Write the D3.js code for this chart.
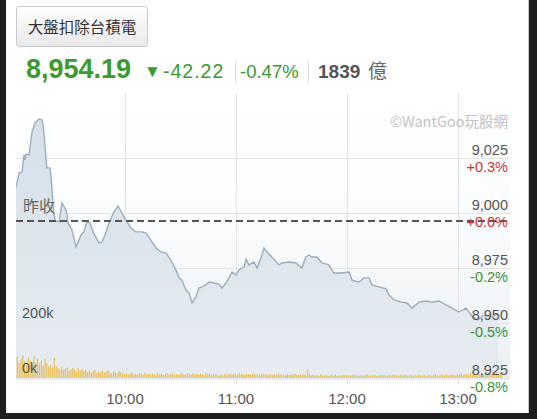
<!DOCTYPE html>
<html>
<head>
<meta charset="utf-8">
<script src="https://cdn.jsdelivr.net/npm/d3@7"></script>
<style>
body { margin: 0; background: #1e1e1e; }
svg { display: block; font-family: "Liberation Sans", Arial, "Noto Sans CJK TC", sans-serif; }
.cjk { font-family: "Noto Sans CJK TC", sans-serif; }
</style>
</head>
<body>
<svg id="chart" width="537" height="419"></svg>
<script>
var title = '大盤扣除台積電';
var watermark = '©WantGoo玩股網';
var prevClose = 8996.41;
var lastPrice = 8954.19;
var change = -42.22;
var changePct = -0.0047;
var turnover = 1839;

// minutes after 09:00 and index value
var priceMinutes = [0, 1, 3, 4.6, 5.7, 6.2, 6.8, 8.4, 10, 11.6,
    13.8, 15.4, 16, 17, 18, 19.7, 20.3, 21.4, 22.4, 24.6,
    26.2, 28.4, 29.5, 31.6, 33.8, 36.5, 38, 39.7, 41.4, 43,
    46.2, 47.8, 49.5, 51.6, 54.3, 56.5, 58.6, 60.8, 63.5, 66.2,
    69.5, 71.6, 74.3, 77, 79.7, 82.4, 85.1, 87.8, 89.5, 91,
    93.2, 94.9, 96.5, 98.6, 100.3, 101.9, 104, 105.7, 108.4, 111,
    112.7, 114.9, 116.5, 118.1, 120.3, 121.9, 124.6, 125.7, 127.3, 130,
    131.6, 134, 135.4, 137, 139.7, 143.5, 145, 148.9, 152.7, 155.9,
    158, 159.7, 161.4, 164.1, 166.8, 170.5, 173.2, 177, 181.4, 183,
    186.8, 189.5, 192.2, 193.8, 197.6, 201.4, 203, 205.7, 209.5, 212.7,
    215.4, 219.2, 223, 226.2, 230, 233.8, 237, 240.8, 244.6, 248,
    251, 254, 258, 262];
var prices = [9019.5, 9010.5, 9018.2, 9018.6, 9026.4, 9024.1, 9026.8, 9026.4, 9036.8, 9040.9,
    9042.7, 9042.3, 9040, 9030.9, 9020.5, 9020.5, 9016.4, 9003.6, 8996.8, 8995.9,
    9004.5, 9001.4, 8995.5, 8992.3, 8984.5, 8990, 8991.4, 8995.9, 8995.5, 8991.4,
    8986.4, 8986.8, 8990, 8995.5, 9000.5, 9003.2, 9000, 8996.8, 8993.2, 8991.4,
    8991.4, 8990.9, 8987.7, 8984.1, 8982.3, 8981.8, 8978.6, 8974.1, 8970.5, 8969.5,
    8965, 8963.6, 8959.1, 8961.8, 8965.9, 8966.4, 8967.3, 8968.6, 8968.2, 8967.7,
    8965.9, 8968.2, 8970.5, 8973.2, 8971.8, 8974.1, 8975.5, 8979, 8976.4, 8977.7,
    8975, 8980, 8984.1, 8982.3, 8980, 8976.4, 8977.3, 8977.7, 8977.3, 8975,
    8980, 8980.9, 8980, 8980, 8977.3, 8976.4, 8972.7, 8972.7, 8973.2, 8969.5,
    8968.6, 8970.5, 8970.5, 8967.3, 8966.4, 8965.5, 8962.7, 8960.5, 8959.5, 8959.1,
    8956.8, 8959.5, 8960, 8959.5, 8960, 8958.2, 8956.8, 8955, 8956.8, 8953,
    8951.4, 8953.5, 8952.7, 8954.19];

// volume (k) per minute from 09:00
var volumes = [205, 62, 78, 55, 70, 82, 60, 48, 75, 66, 52, 80, 58, 72, 50, 64, 45, 70, 55, 42,
    48, 38, 73, 44, 36, 30, 40, 28, 34, 38, 26, 32, 36, 30, 24, 35, 28, 33, 26, 30,
    22, 27, 20, 25, 30, 18, 24, 21, 26, 19, 23, 28, 20, 17, 24, 22, 18, 25, 20, 16,
    14, 18, 12, 16, 20, 13, 15, 11, 17, 14, 12, 19, 13, 15, 11, 16, 14, 12, 18, 13,
    15, 11, 14, 17, 12, 13, 16, 10, 14, 12, 15, 18, 13, 11, 16, 14, 12, 17, 13, 15,
    12, 16, 14, 11, 18, 13, 15, 10, 14, 12, 13, 9, 12, 10, 14, 11, 13, 15, 12, 16,
    14, 12, 18, 13, 15, 11, 16, 14, 12, 13, 17, 12, 14, 11, 15, 13, 12, 14, 10, 13,
    11, 14, 12, 15, 13, 12, 12, 10, 14, 11, 13, 12, 15, 11, 10, 13, 12, 14, 11, 33,
    13, 10, 12, 9, 11, 8, 12, 10, 9, 11, 8, 10, 12, 9, 11, 8, 10, 9, 12, 10,
    9, 11, 8, 10, 12, 9, 10, 8, 11, 9, 10, 12, 8, 9, 11, 10, 9, 8, 11, 10,
    9, 10, 8, 11, 9, 12, 10, 8, 9, 11, 10, 9, 12, 8, 10, 11, 9, 10, 8, 12,
    10, 9, 11, 8, 12, 10, 9, 11, 13, 10, 9, 12, 11, 10, 13, 9, 12, 14, 11, 10,
    15, 12, 18, 11, 14, 16, 12, 19, 13, 17, 14, 20, 15, 18, 13, 21, 16, 19, 15, 22,
    18, 20, 16, 22, 19];

var priceTicks = [8925, 8950, 8975, 9000, 9025];
var volumeTicks = [0, 200];
var hourTicks = ['10:00', '11:00', '12:00', '13:00'];

var fmt = d3.formatLocale({decimal: '.', thousands: ',', grouping: [3], currency: ['', ''], minus: '-'});
var green = '#3b9a31';

var svg = d3.select('#chart');
var plot = {l: 16, r: 510, t: 93, b: 380};

var parseTime = d3.timeParse('%H:%M');
var open = parseTime('09:00');
function atMinute(m) { return new Date(open.getTime() + m * 60000); }

var x = d3.scaleTime()
    .domain([open, parseTime('13:30')])
    .range([13.5, 513]);
var y = d3.scaleLinear()
    .domain([8925, 9025])
    .range([378, 158]);
var yVol = d3.scaleLinear()
    .domain([0, 200])
    .range([378, 323]);

var defs = svg.append('defs');
var btnGrad = defs.append('linearGradient').attr('id', 'btnGrad')
    .attr('x1', 0).attr('x2', 0).attr('y1', 0).attr('y2', 1);
btnGrad.append('stop').attr('offset', '0%').attr('stop-color', '#ffffff');
btnGrad.append('stop').attr('offset', '100%').attr('stop-color', '#e9e9e9');

var bgGrad = defs.append('linearGradient').attr('id', 'bgGrad')
    .attr('x1', 0).attr('x2', 0).attr('y1', 0).attr('y2', 1);
bgGrad.append('stop').attr('offset', '0%').attr('stop-color', '#ffffff');
bgGrad.append('stop').attr('offset', '45%').attr('stop-color', '#fbfcfd');
bgGrad.append('stop').attr('offset', '100%').attr('stop-color', '#eaeff3');

var areaGrad = defs.append('linearGradient').attr('id', 'areaGrad')
    .attr('gradientUnits', 'userSpaceOnUse')
    .attr('x1', 0).attr('x2', 0).attr('y1', 115).attr('y2', plot.b);
areaGrad.append('stop').attr('offset', '0%').attr('stop-color', '#d6e0e9');
areaGrad.append('stop').attr('offset', '100%').attr('stop-color', '#e6ecf1');

defs.append('clipPath').attr('id', 'plotClip')
    .append('rect')
    .attr('x', plot.l).attr('y', plot.t)
    .attr('width', plot.r - plot.l).attr('height', plot.b - plot.t);

// card
svg.append('rect')
    .attr('x', 6).attr('y', 0)
    .attr('width', 522).attr('height', 413)
    .attr('fill', '#fff');
svg.append('line')
    .attr('x1', 528.5).attr('x2', 528.5)
    .attr('y1', 0).attr('y2', 413)
    .attr('stroke', '#c9c9c9');

// header
svg.append('rect')
    .attr('x', 16.5).attr('y', 6.5)
    .attr('width', 131).attr('height', 40)
    .attr('rx', 3)
    .attr('fill', 'url(#btnGrad)')
    .attr('stroke', '#c8c8c8');
svg.append('text')
    .attr('class', 'cjk')
    .attr('x', 82).attr('y', 33)
    .attr('text-anchor', 'middle')
    .attr('font-size', 15.5)
    .attr('fill', '#333')
    .text(title);

var header = svg.append('g');
header.append('text')
    .attr('x', 26).attr('y', 78)
    .attr('font-size', 27).attr('font-weight', 'bold')
    .attr('fill', green)
    .text(fmt.format(',.2f')(lastPrice));
header.append('text')
    .attr('x', 144).attr('y', 77)
    .attr('font-size', 17)
    .attr('fill', green)
    .text('▼');
header.append('text')
    .attr('x', 163).attr('y', 78)
    .attr('font-size', 19.5)
    .attr('letter-spacing', 1)
    .attr('fill', green)
    .text(fmt.format('.2f')(change));
header.append('line')
    .attr('x1', 235.5).attr('x2', 235.5).attr('y1', 61).attr('y2', 83)
    .attr('stroke', '#ddd');
header.append('text')
    .attr('x', 240).attr('y', 78)
    .attr('font-size', 18.5)
    .attr('fill', green)
    .text(fmt.format('.2%')(changePct));
header.append('line')
    .attr('x1', 308.5).attr('x2', 308.5).attr('y1', 61).attr('y2', 83)
    .attr('stroke', '#ddd');
header.append('text')
    .attr('x', 318).attr('y', 78)
    .attr('font-size', 19).attr('font-weight', 'bold')
    .attr('fill', '#555')
    .text(turnover);
header.append('text')
    .attr('class', 'cjk')
    .attr('x', 368).attr('y', 78)
    .attr('font-size', 19)
    .attr('fill', '#666')
    .text('億');

// plot background and grid
svg.append('rect')
    .attr('x', plot.l).attr('y', plot.t)
    .attr('width', plot.r - plot.l).attr('height', plot.b - plot.t)
    .attr('fill', 'url(#bgGrad)');

svg.append('g').selectAll('line')
    .data(priceTicks)
    .join('line')
    .attr('x1', plot.l).attr('x2', plot.r)
    .attr('y1', d => Math.round(y(d)) + 0.5).attr('y2', d => Math.round(y(d)) + 0.5)
    .attr('stroke', '#e3e3e3');

svg.append('g').selectAll('line')
    .data(hourTicks)
    .join('line')
    .attr('x1', d => Math.round(x(parseTime(d))) + 0.5).attr('x2', d => Math.round(x(parseTime(d))) + 0.5)
    .attr('y1', plot.t).attr('y2', 384)
    .attr('stroke', '#e3e3e3');

var chart = svg.append('g').attr('clip-path', 'url(#plotClip)');

var series = priceMinutes.map((m, i) => ({t: atMinute(m), p: prices[i]}));

var area = d3.area()
    .x(d => x(d.t))
    .y0(plot.b)
    .y1(d => y(d.p));
var line = d3.line()
    .x(d => x(d.t))
    .y(d => y(d.p));

chart.append('path')
    .datum(series)
    .attr('d', area)
    .attr('fill', 'url(#areaGrad)');

chart.selectAll('rect.vol')
    .data(volumes)
    .join('rect')
    .attr('class', 'vol')
    .attr('x', (d, i) => x(atMinute(i)) - 0.5)
    .attr('width', 1.2)
    .attr('y', d => yVol(d))
    .attr('height', d => yVol(0) - yVol(d))
    .attr('fill', '#e8bf55');

chart.append('path')
    .datum(series)
    .attr('d', line)
    .attr('fill', 'none')
    .attr('stroke', '#9dadbc')
    .attr('stroke-width', 1.4);

// previous close
svg.append('line')
    .attr('x1', plot.l).attr('x2', plot.r)
    .attr('y1', y(prevClose)).attr('y2', y(prevClose))
    .attr('stroke', '#555')
    .attr('stroke-width', 2)
    .attr('stroke-dasharray', '7,4');

svg.append('text')
    .attr('class', 'cjk')
    .attr('x', 23).attr('y', y(prevClose) - 9)
    .attr('font-size', 16)
    .attr('fill', '#666')
    .text('昨收');

// right axis: price and percent
var yAxis = svg.append('g')
    .attr('transform', 'translate(508,0)')
    .call(d3.axisLeft(y).tickValues(priceTicks).tickFormat(fmt.format(',')).tickSize(0).tickPadding(0));
yAxis.select('.domain').remove();
yAxis.attr('font-family', null).attr('font-size', 14.5);
yAxis.selectAll('text')
    .attr('dy', -3.5)
    .attr('fill', '#555');

svg.append('g').selectAll('text')
    .data(priceTicks)
    .join('text')
    .attr('x', 508)
    .attr('y', d => y(d) + 14)
    .attr('text-anchor', 'end')
    .attr('font-size', 14.5)
    .attr('fill', d => d >= prevClose ? '#c9363b' : '#3a8f3a')
    .text(d => fmt.format('+.1%')(d / prevClose - 1));

// volume labels
svg.append('g').selectAll('text')
    .data(volumeTicks)
    .join('text')
    .attr('x', 22)
    .attr('y', d => yVol(d) - 5)
    .attr('font-size', 14.5)
    .attr('fill', '#555')
    .text(d => d + 'k');

svg.append('text')
    .attr('class', 'cjk')
    .attr('x', 508).attr('y', 127)
    .attr('text-anchor', 'end')
    .attr('font-size', 14.5)
    .attr('fill', '#c3c3c3')
    .text(watermark);

// time axis
var xAxis = svg.append('g')
    .attr('transform', 'translate(0,404)')
    .call(d3.axisBottom(x).tickValues(hourTicks.map(parseTime)).tickFormat(d3.timeFormat('%H:%M')).tickSize(0));
xAxis.select('.domain').remove();
xAxis.attr('font-family', null).attr('font-size', 15);
xAxis.selectAll('text')
    .attr('y', 0).attr('dy', 0)
    .attr('fill', '#555');
</script>
</body>
</html>
